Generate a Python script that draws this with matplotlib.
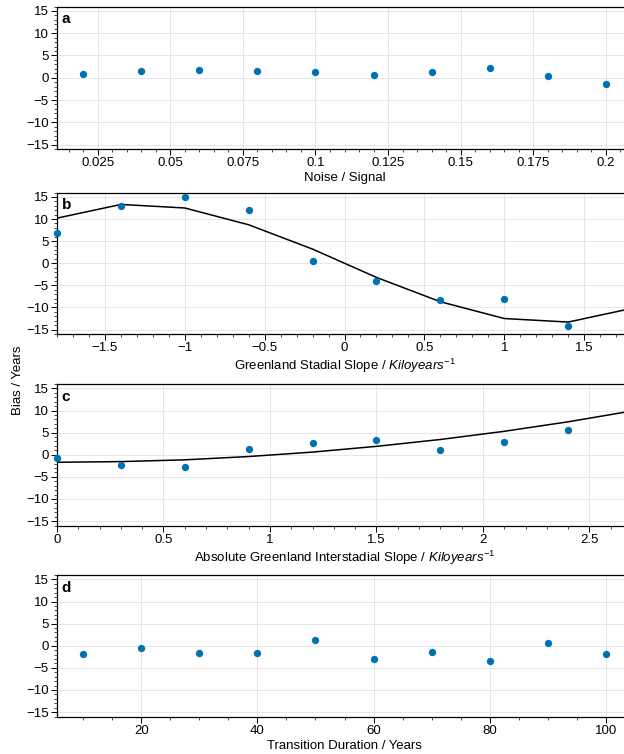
import numpy as np
import matplotlib
matplotlib.use('Agg')
import matplotlib.pyplot as plt
from matplotlib.ticker import MultipleLocator, FuncFormatter

plt.rcParams['font.family'] = ['Liberation Sans', 'DejaVu Sans']
plt.rcParams['mathtext.fontset'] = 'custom'
plt.rcParams['mathtext.rm'] = 'Liberation Sans'
plt.rcParams['mathtext.it'] = 'Liberation Sans:italic'
plt.rcParams['font.size'] = 9.5

# panel a: noise / signal
noise_x = [0.02, 0.04, 0.06, 0.08, 0.10, 0.12, 0.14, 0.16, 0.18, 0.20]
noise_bias = [0.75, 1.5, 1.65, 1.6, 1.35, 0.6, 1.3, 2.25, 0.3, -1.35]

# panel b: stadial slope
gs_x = [-1.8, -1.4, -1.0, -0.6, -0.2, 0.2, 0.6, 1.0, 1.4]
gs_bias = [6.9, 12.9, 15.0, 12.0, 0.6, -4.0, -8.4, -8.0, -14.1]
gs_line_x = [-1.8, -1.4, -1.0, -0.6, -0.2, 0.2, 0.6, 1.0, 1.4, 1.8]
gs_line_y = [10.2, 13.3, 12.5, 8.7, 3.2, -3.2, -8.7, -12.5, -13.3, -10.2]

# panel c: interstadial slope
gi_x = [0.0, 0.3, 0.6, 0.9, 1.2, 1.5, 1.8, 2.1, 2.4]
gi_bias = [-0.8, -2.4, -2.8, 1.2, 2.7, 3.25, 1.1, 2.9, 5.6]
gi_line_x = [0.0, 0.3, 0.6, 0.9, 1.2, 1.5, 1.8, 2.1, 2.4, 2.7]
gi_line_y = [-1.7, -1.55, -1.15, -0.4, 0.6, 1.9, 3.45, 5.3, 7.45, 9.9]

# panel d: transition duration
dur_x = [10, 20, 30, 40, 50, 60, 70, 80, 90, 100]
dur_bias = [-1.95, -0.45, -1.65, -1.65, 1.35, -2.95, -1.45, -3.55, 0.7, -1.8]

dot_color = '#0072B2'

fig = plt.figure(figsize=(6.24, 7.54), dpi=100)
W, H = 624, 754
left, right = 57, 632
boxes = [(6.5, 149), (192.5, 334), (384, 525.5), (575, 716.5)]
axs = []
for top, bot in boxes:
    axs.append(fig.add_axes([left / W, 1 - bot / H, (right - left) / W, (bot - top) / H]))


def fmt(v, pos):
    s = f'{v:g}'
    return s.replace('-', '\u2212')


panels = [
    (noise_x, noise_bias, None, None, (0.011, 0.209), 0.025, 0.005, 'Noise / Signal'),
    (gs_x, gs_bias, gs_line_x, gs_line_y, (-1.8, 1.8), 0.5, 0.1,
     'Greenland Stadial Slope / $\\it{Kiloyears}^{-1}$'),
    (gi_x, gi_bias, gi_line_x, gi_line_y, (0, 2.7), 0.5, 0.1,
     'Absolute Greenland Interstadial Slope / $\\it{Kiloyears}^{-1}$'),
    (dur_x, dur_bias, None, None, (5.5, 104.5), 20, 5, 'Transition Duration / Years'),
]

for ax, lab, (px, py, lx, ly, xl, maj, mnr, xlabel) in zip(axs, 'abcd', panels):
    ax.set_axisbelow(True)
    ax.grid(True, color='#e6e6e6', lw=0.7)
    if lx is not None:
        ax.plot(lx, ly, color='black', lw=1.1, zorder=2, clip_on=True)
    ax.scatter(px, py, s=28, color=dot_color, zorder=3, clip_on=False, linewidths=0)
    ax.set_xlim(*xl)
    ax.set_ylim(-16, 16)
    ax.xaxis.set_major_locator(MultipleLocator(maj))
    ax.xaxis.set_minor_locator(MultipleLocator(mnr))
    ax.yaxis.set_major_locator(MultipleLocator(5))
    ax.yaxis.set_minor_locator(MultipleLocator(1))
    ax.xaxis.set_major_formatter(FuncFormatter(fmt))
    ax.yaxis.set_major_formatter(FuncFormatter(fmt))
    ax.tick_params(which='major', direction='out', length=4, width=0.7, pad=2)
    ax.tick_params(which='minor', direction='out', length=2, width=0.5)
    for sp in ax.spines.values():
        sp.set_linewidth(0.9)
    ax.set_xlabel(xlabel, labelpad=2)
    ax.text(0.008, 0.96, lab, transform=ax.transAxes, fontweight='bold',
            ha='left', va='top', fontsize=11)

fig.text(18 / W, 1 - 380 / H, 'Bias / Years', rotation=90, ha='center', va='center')

fig.savefig('out.png', dpi=100)
